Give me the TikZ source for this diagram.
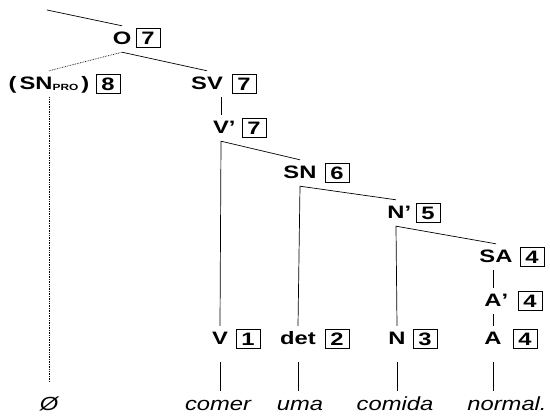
\documentclass[tikz,border=0pt]{standalone}
\usepackage{fontspec}
\setmainfont{Liberation Sans}[FakeStretch=1.25]
\newfontfamily\catfont{Liberation Sans}[FakeStretch=1.32]
\tikzset{
  cat/.style={font=\catfont\fontsize{18}{18}\selectfont\bfseries, text height=12pt, text depth=0pt, inner xsep=1pt, inner ysep=7pt},
  num/.style={draw, line width=0.6pt, font=\catfont\fontsize{18}{18}\selectfont\bfseries, minimum width=24pt, minimum height=19pt, inner sep=0pt},
  word/.style={font=\fontsize{19}{19}\selectfont\itshape, text height=11pt, text depth=3pt, inner sep=9pt},
  branch/.style={line width=0.7pt},
  empty/.style={line width=0.7pt, densely dotted}
}
\begin{document}
\begin{tikzpicture}[x=1pt,y=-1pt]
    \useasboundingbox (0,0) rectangle (550,419);
    % categories and their boxes
    \node[cat] (O) at (122,39) {O};
    \node[num] (O-n) at (148,38) {7};
    \node[cat] (SNpro) at (49,84) {(\,SN\raisebox{-1pt}{\fontsize{9}{9}\selectfont PRO}\,)};
    \node[num] (SNpro-n) at (108,84) {8};
    \node[cat] (SV) at (207,84) {SV};
    \node[num] (SV-n) at (244,84) {7};
    \node[cat] (Vbar) at (221,128) {V\rlap{’}};
    \node[num] (Vbar-n) at (254,128) {7};
    \node[cat] (SN) at (300,173) {SN};
    \node[num] (SN-n) at (337,173) {6};
    \node[cat] (Nbar) at (396,213) {N\rlap{’}};
    \node[num] (Nbar-n) at (428,213) {5};
    \node[cat] (SA) at (496,257) {SA};
    \node[num] (SA-n) at (532,257) {4};
    \node[cat] (Abar) at (493,301) {A\rlap{’}};
    \node[num] (Abar-n) at (530,301) {4};
    \node[cat] (V) at (220,339) {V};
    \node[num] (V-n) at (248,339) {1};
    \node[cat] (det) at (298,339) {det};
    \node[num] (det-n) at (337,339) {2};
    \node[cat] (N) at (397,339) {N};
    \node[num] (N-n) at (425,339) {3};
    \node[cat] (A) at (493,339) {A};
    \node[num] (A-n) at (525,339) {4};
    % words
    \node[word] (zero) at (49,407) {Ø};
    \node[word] (comer) at (218,407) {comer};
    \node[word] (uma) at (300,407) {uma};
    \node[word] (comida) at (395,407) {comida};
    \node[word] (normal) at (507,407) {normal.};
    % branches
    \coordinate (root) at (47,10);
    \draw[branch] (root) -- (O.north);
    \draw[empty] (O.south) -- (SNpro.north);
    \draw[branch] (O.south) -- (SV.north);
    \draw[branch] (SV.south -| Vbar.north) -- (Vbar.north);
    \draw[branch] (SN.north) -- (Vbar.south) -- (V.north);
    \draw[branch] (Nbar.north) -- (SN.south) -- (det.north);
    \draw[branch] (SA.north) -- (Nbar.south) -- (N.north);
    \draw[branch] (SA.south -| Abar.north) -- (Abar.north);
    \draw[branch] (Abar.south) -- (A.north);
    \draw[empty, shorten >=9pt] (SNpro.south) -- (zero.north);
    \draw[branch, shorten <=10pt] (V.south) -- (V.south |- comer.north);
    \draw[branch, shorten <=10pt] (det.south) -- (det.south |- uma.north);
    \draw[branch, shorten <=10pt] (N.south) -- (N.south |- comida.north);
    \draw[branch, shorten <=10pt] (A.south) -- (A.south |- normal.north);
\end{tikzpicture}
\end{document}
